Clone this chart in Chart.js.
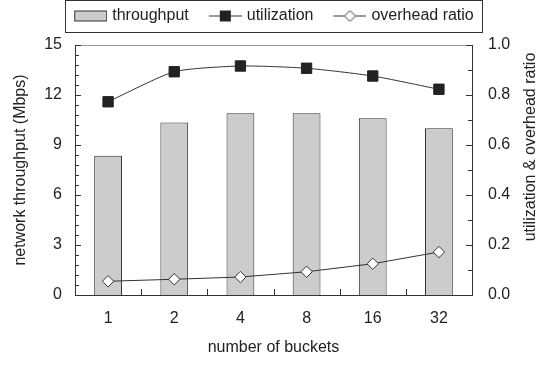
<!DOCTYPE html>
<html>
<head>
<meta charset="utf-8">
<script src="https://cdn.jsdelivr.net/npm/chart.js@4"></script>
<style>
    html, body { margin: 0; padding: 0; background: #fff; overflow: hidden; }
    #chart { display: block; }
</style>
</head>
<body>
<canvas id="chart" width="536" height="367"></canvas>
<script>
const buckets = ["1", "2", "4", "8", "16", "32"];
const throughput = [8.35, 10.35, 10.9, 10.9, 10.6, 10.0];
const utilization = [0.773, 0.893, 0.916, 0.907, 0.876, 0.823];
const overheadRatio = [0.055, 0.063, 0.072, 0.093, 0.125, 0.172];

const leftTicks = [0, 3, 6, 9, 12, 15];
const rightTicks = [0, 0.2, 0.4, 0.6, 0.8, 1.0];

const INK = "#222";
const FONT = "'Liberation Sans', Arial, sans-serif";

Chart.defaults.font.family = FONT;
Chart.defaults.font.size = 16;
Chart.defaults.color = INK;

// legend symbols: 48px wide image, symbol drawn in its right 33px
function legendSymbol(kind) {
    const c = document.createElement("canvas");
    c.width = 48;
    c.height = 13;
    const g = c.getContext("2d");
    g.strokeStyle = "#333";
    g.lineWidth = 1;
    if (kind === "bar") {
        g.fillStyle = "#cccccc";
        g.fillRect(15.5, 1.5, 32, 10);
        g.strokeRect(15.5, 1.5, 32, 10);
    } else {
        g.beginPath();
        g.moveTo(15, 6.5);
        g.lineTo(48, 6.5);
        g.stroke();
        if (kind === "square") {
            g.fillStyle = INK;
            g.fillRect(26, 1, 11, 11);
        } else {
            g.fillStyle = "#fff";
            g.beginPath();
            g.moveTo(31.5, 1);
            g.lineTo(37, 6.5);
            g.lineTo(31.5, 12);
            g.lineTo(26, 6.5);
            g.closePath();
            g.fill();
            g.stroke();
        }
    }
    return c;
}

const symbols = [legendSymbol("bar"), legendSymbol("square"), legendSymbol("diamond")];

const chartDecor = {
    id: "chartDecor",
    beforeInit(chart) {
        const legend = chart.legend;
        const fit = legend.fit;
        legend.fit = function () {
            fit.call(this);
            this.height = 45;
        };
    },
    afterDraw(chart) {
        const ctx = chart.ctx;
        const area = chart.chartArea;
        const x = chart.scales.x;
        const y = chart.scales.y;
        const y1 = chart.scales.y1;

        ctx.save();
        ctx.lineWidth = 1;

        // top frame line
        ctx.strokeStyle = "#999";
        ctx.beginPath();
        ctx.moveTo(area.left, Math.round(area.top) + 0.5);
        ctx.lineTo(area.right, Math.round(area.top) + 0.5);
        ctx.stroke();

        ctx.strokeStyle = "#333";
        ctx.beginPath();
        // left axis ticks, inward
        for (let i = 0; i <= 25; i++) {
            const v = i * 0.6;
            const py = Math.round(y.getPixelForValue(v)) + 0.5;
            const len = (i % 5 === 0) ? 6 : 4;
            ctx.moveTo(area.left, py);
            ctx.lineTo(area.left + len, py);
        }
        // right axis ticks, inward
        for (let i = 0; i <= 10; i++) {
            const py = Math.round(y1.getPixelForValue(i / 10)) + 0.5;
            const len = (i % 2 === 0) ? 6 : 4;
            ctx.moveTo(area.right, py);
            ctx.lineTo(area.right - len, py);
        }
        // category boundary ticks
        for (let i = 0; i < buckets.length - 1; i++) {
            const px = Math.round((x.getPixelForValue(i) + x.getPixelForValue(i + 1)) / 2) + 0.5;
            ctx.moveTo(px, area.bottom);
            ctx.lineTo(px, area.bottom - 6);
        }
        ctx.stroke();

        // legend frame
        const hb = chart.legend.legendHitBoxes;
        if (hb && hb.length) {
            const last = hb[hb.length - 1];
            const bx = Math.round(hb[0].left + 3) + 0.5;
            const br = Math.round(last.left + last.width + 8) + 0.5;
            ctx.strokeStyle = "#333";
            ctx.strokeRect(bx, 0.5, br - bx, 32);
        }

        // right axis title (reads bottom to top, clipped by the edge)
        ctx.fillStyle = INK;
        ctx.font = "16px " + FONT;
        ctx.textAlign = "center";
        ctx.textBaseline = "middle";
        ctx.translate(531, 147);
        ctx.rotate(-Math.PI / 2);
        ctx.fillText("utilization & overhead ratio", 0, 0);
        ctx.restore();
    }
};

const ctx = document.getElementById("chart").getContext("2d");

new Chart(ctx, {
    data: {
        labels: buckets,
        datasets: [
            {
                type: "bar",
                label: "throughput",
                data: throughput,
                yAxisID: "y",
                backgroundColor: "#cccccc",
                borderColor: "#333",
                borderWidth: 1,
                categoryPercentage: 1,
                barPercentage: 0.42,
                order: 3
            },
            {
                type: "line",
                label: "utilization",
                data: utilization,
                yAxisID: "y1",
                borderColor: "#333",
                borderWidth: 1,
                pointStyle: "rect",
                pointRadius: 7.3,
                pointBackgroundColor: INK,
                pointBorderColor: INK,
                pointBorderWidth: 1,
                tension: 0.2,
                order: 1
            },
            {
                type: "line",
                label: "overhead ratio",
                data: overheadRatio,
                yAxisID: "y1",
                borderColor: "#333",
                borderWidth: 1,
                pointStyle: "rectRot",
                pointRadius: 5.7,
                pointBackgroundColor: "#fff",
                pointBorderColor: "#333",
                pointBorderWidth: 1,
                tension: 0,
                order: 2
            }
        ]
    },
    options: {
        responsive: false,
        animation: false,
        layout: { padding: 0 },
        plugins: {
            tooltip: { enabled: false },
            legend: {
                position: "top",
                labels: {
                    usePointStyle: true,
                    pointStyleWidth: 42,
                    padding: 8,
                    color: INK,
                    font: { size: 16 },
                    generateLabels(chart) {
                        return chart.data.datasets.map((ds, i) => ({
                            text: ds.label,
                            pointStyle: symbols[i],
                            fillStyle: "transparent",
                            strokeStyle: "transparent",
                            lineWidth: 0,
                            fontColor: INK,
                            datasetIndex: i,
                            hidden: false
                        }));
                    }
                }
            }
        },
        scales: {
            x: {
                grid: { display: false, drawTicks: false },
                border: { display: true, color: "#333", width: 1 },
                ticks: { padding: 14, color: INK },
                title: {
                    display: true,
                    text: "number of buckets",
                    color: INK,
                    font: { size: 16 },
                    padding: { top: 0, bottom: 10 }
                },
                afterFit(scale) { scale.height = 72; }
            },
            y: {
                position: "left",
                min: 0,
                max: 15,
                grid: { display: false, drawTicks: false },
                border: { display: true, color: "#333", width: 1 },
                afterBuildTicks(scale) {
                    scale.ticks = leftTicks.map(v => ({ value: v }));
                },
                ticks: { padding: 13, color: INK },
                title: {
                    display: true,
                    text: "network throughput (Mbps)",
                    color: INK,
                    font: { size: 16 },
                    padding: { top: 11, bottom: 0 }
                },
                afterFit(scale) { scale.width = 75; }
            },
            y1: {
                position: "right",
                min: 0,
                max: 1,
                grid: { display: false, drawTicks: false },
                border: { display: true, color: "#333", width: 1 },
                afterBuildTicks(scale) {
                    scale.ticks = rightTicks.map(v => ({ value: v }));
                },
                ticks: {
                    padding: 16,
                    color: INK,
                    callback: (v) => Number(v).toFixed(1)
                },
                afterFit(scale) { scale.width = 64; }
            }
        }
    },
    plugins: [chartDecor]
});
</script>
</body>
</html>
